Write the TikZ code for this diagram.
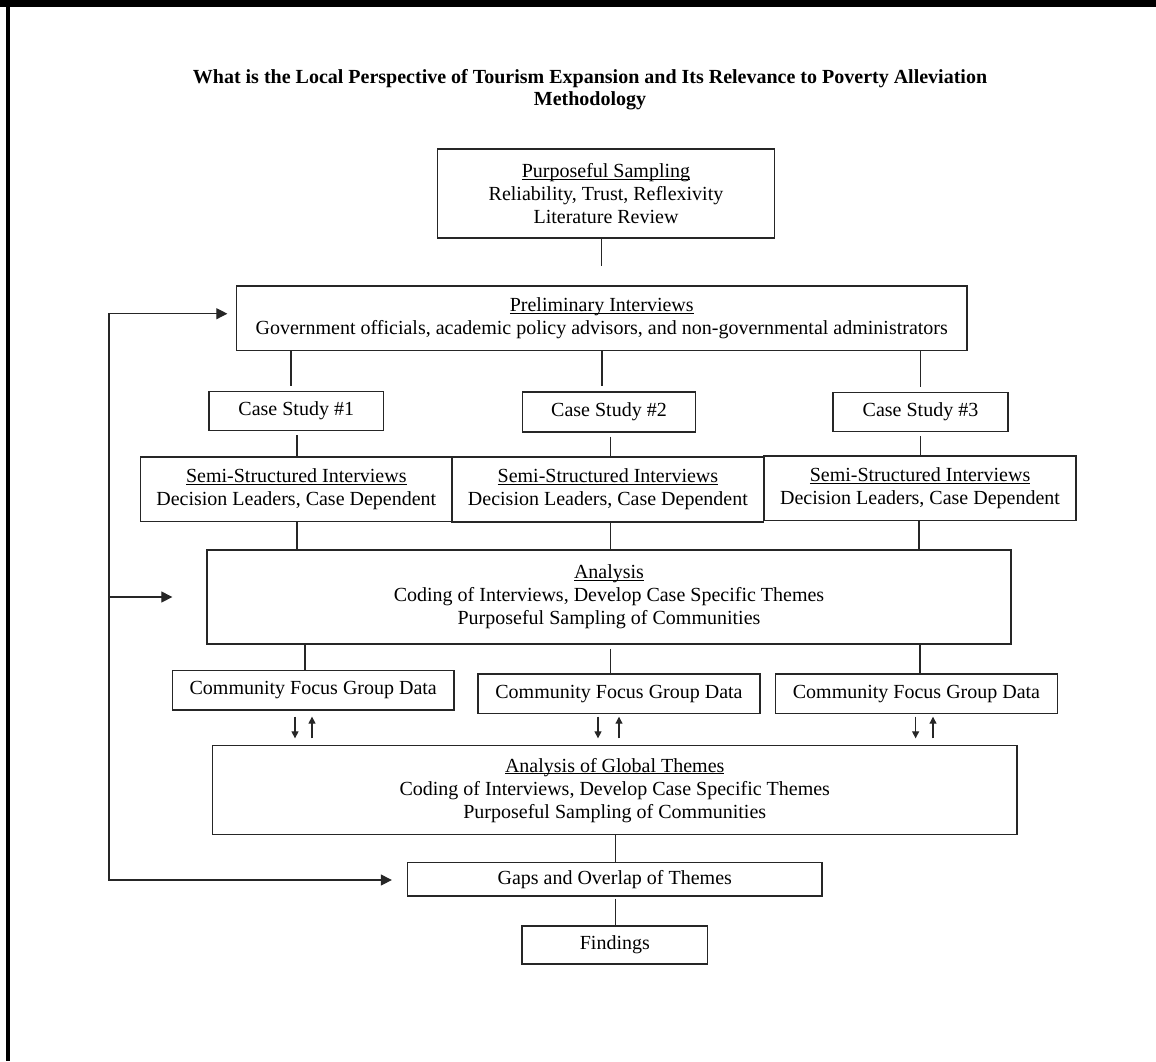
\documentclass[tikz,border=0pt]{standalone}
\usepackage{fontspec}
\setmainfont{Liberation Serif}
\usetikzlibrary{arrows.meta}
\newcommand\ulx[1]{\setbox0=\hbox{#1}\rlap{\rule[-1.1pt]{\wd0}{0.5pt}}\box0}
\begin{document}
\begin{tikzpicture}[x=0.5pt,y=-0.5pt,
  box/.style={draw=black!85, line width=0.65pt, align=center, inner sep=0pt,
    font=\fontsize{10}{11.5}\selectfont},
  conn/.style={draw=black!85, line width=0.55pt},
  arr/.style={conn, line width=0.6pt, -{Triangle[length=5.5pt,width=5.5pt]}},
  sarr/.style={conn, -{Triangle[length=3.5pt,width=3.5pt]}},
]
\useasboundingbox (0,0) rectangle (1156,1061);
\fill[black] (0,0) rectangle (1156,7);
\fill[black] (6,0) rectangle (10,1061);

\node[align=center, font=\bfseries\fontsize{10}{11}\selectfont] (title) at (590,89.5)
  {What is the Local Perspective of Tourism Expansion and Its Relevance to Poverty Alleviation\\Methodology};

\node[box, minimum width=168.75pt, minimum height=44.5pt] (pur) at (606,193.5)
  {\ulx{Purposeful Sampling}\\Reliability, Trust, Reflexivity\\Literature Review};
\node[box, minimum width=365.25pt, minimum height=32.25pt] (pre) at (601.75,318.25)
  {\ulx{Preliminary Interviews}\\Government officials, academic policy advisors, and non-governmental administrators};

\node[box, minimum width=87.25pt, minimum height=19.5pt] (cs1) at (296.25,411) {Case Study \#1};
\node[box, minimum width=86.5pt, minimum height=20pt] (cs2) at (609,412) {Case Study \#2};
\node[box, minimum width=87.5pt, minimum height=19.75pt] (cs3) at (920.5,412) {Case Study \#3};

\node[box, minimum width=155.7pt, minimum height=32.35pt] (ss1) at (296.3,489.3)
  {\ulx{Semi-Structured Interviews}\\Decision Leaders, Case Dependent};
\node[box, minimum width=155.9pt, minimum height=32.5pt] (ss2) at (607.9,489.5)
  {\ulx{Semi-Structured Interviews}\\Decision Leaders, Case Dependent};
\node[box, minimum width=156pt, minimum height=32.35pt] (ss3) at (920,488.3)
  {\ulx{Semi-Structured Interviews}\\Decision Leaders, Case Dependent};

\node[box, minimum width=402pt, minimum height=47pt] (ana) at (609,597)
  {\ulx{Analysis}\\Coding of Interviews, Develop Case Specific Themes\\Purposeful Sampling of Communities};

\node[box, minimum width=140.75pt, minimum height=19.65pt] (cf1) at (313.25,690.3) {Community Focus Group Data};
\node[box, minimum width=141pt, minimum height=19.65pt] (cf2) at (619,693.7) {Community Focus Group Data};
\node[box, minimum width=141pt, minimum height=19.65pt] (cf3) at (916.5,693.7) {Community Focus Group Data};

\node[box, minimum width=402.25pt, minimum height=44.5pt] (glo) at (614.75,790.2)
  {\ulx{Analysis of Global Themes}\\Coding of Interviews, Develop Case Specific Themes\\Purposeful Sampling of Communities};

\node[box, minimum width=207.25pt, minimum height=16.65pt] (gap) at (614.75,879.3) {Gaps and Overlap of Themes};
\node[box, minimum width=92.85pt, minimum height=19pt] (fin) at (614.85,945) {Findings};

% vertical connectors
\draw[conn, shorten >=9.5pt] (pur.south -| pre.north) -- (pre.north);
\draw[conn, shorten >=2.25pt] (pre.south -| 291,0) -- (cs1.north -| 291,0);
\draw[conn, shorten >=2.5pt] (pre.south -| 602,0) -- (cs2.north -| 602,0);
\draw[conn, shorten >=2.5pt] (pre.south -| 920.6,0) -- (cs3.north -| 920.6,0);

\draw[conn, shorten <=2pt] (cs1.south -| 297,0) -- (ss1.north -| 297,0);
\draw[conn, shorten <=2pt] (cs2.south -| 610.6,0) -- (ss2.north -| 610.6,0);
\draw[conn, shorten <=2pt] (cs3.south -| 920.6,0) -- (ss3.north -| 920.6,0);

\draw[conn] (ss1.south -| 297,0) -- (ana.north -| 297,0);
\draw[conn] (ss2.south -| 610.6,0) -- (ana.north -| 610.6,0);
\draw[conn] (ss3.south -| 919,0) -- (ana.north -| 919,0);

\draw[conn] (ana.south -| 305,0) -- (cf1.north -| 305,0);
\draw[conn, shorten <=2pt] (ana.south -| 610.6,0) -- (cf2.north -| 610.6,0);
\draw[conn] (ana.south -| 920,0) -- (cf3.north -| 920,0);

% up/down arrow pairs
\draw[sarr, shorten <=3pt, shorten >=3.35pt] (cf1.south -| 295,0) -- (glo.north -| 295,0);
\draw[sarr, shorten <=3.35pt, shorten >=3pt] (glo.north -| 312,0) -- (cf1.south -| 312,0);
\draw[sarr, shorten <=1.35pt, shorten >=3.35pt] (cf2.south -| 598,0) -- (glo.north -| 598,0);
\draw[sarr, shorten <=3.35pt, shorten >=1.35pt] (glo.north -| 619,0) -- (cf2.south -| 619,0);
\draw[sarr, shorten <=1.35pt, shorten >=3.35pt] (cf3.south -| 915.6,0) -- (glo.north -| 915.6,0);
\draw[sarr, shorten <=3.35pt, shorten >=1.35pt] (glo.north -| 933,0) -- (cf3.south -| 933,0);

\draw[conn] (glo.south -| 615.6,0) -- (gap.north -| 615.6,0);
\draw[conn, shorten <=1pt] (gap.south -| 615.7,0) -- (fin.north -| 615.7,0);

% feedback loop
\coordinate (fb1) at (109,313.7);
\coordinate (fb2) at (109,597);
\coordinate (fb3) at (109,880);
\draw[arr, shorten >=4.25pt] (fb3) -- (fb1) -- (pre.west |- fb1);
\draw[arr, shorten >=17pt] (fb2) -- (ana.west |- fb2);
\draw[arr, shorten >=7.5pt] (fb1) -- (fb3) -- (gap.west |- fb3);
\end{tikzpicture}
\end{document}
